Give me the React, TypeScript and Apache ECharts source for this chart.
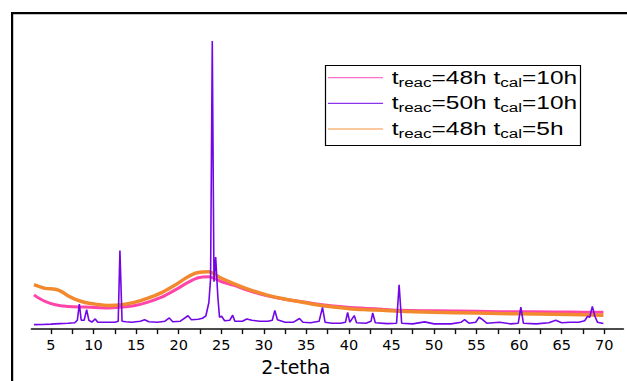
import { useEffect, useRef } from "react";
import * as echarts from "echarts";

// 2θ positions of the axis ticks and of the labelled ticks
const tickValues = [5, 7.5, 10, 12.5, 15, 17.5, 20, 22.5, 25, 27.5, 30, 32.5, 35, 37.5, 40, 42.5, 45, 47.5, 50, 52.5, 55, 57.5, 60, 62.5, 65, 67.5, 70];
const labelValues = [5, 10, 15, 20, 25, 30, 35, 40, 45, 50, 55, 60, 65, 70];

const seriesNames = ["t_reac=48h t_cal=10h", "t_reac=50h t_cal=10h", "t_reac=48h t_cal=5h"];
const seriesColors = ["#FF45AA", "#7306E6", "#F2892E"];
const legendColors = ["#FF6FC8", "#8A36EE", "#F5963F"];

// Intensity (a.u.) against 2θ
const pattern48h10h: [number, number][] = [
  [3.0, 347], [3.5, 318], [4.3, 280], [5.5, 247], [7.0, 230], [9.0, 223], [10.2, 220], [11.7, 213],
  [13.3, 223], [14.9, 240], [16.4, 273], [18.0, 323], [19.6, 397], [21.1, 473], [22.3, 520],
  [23.5, 530], [25.05, 480], [26.4, 445], [28.4, 385], [30.3, 340], [32.3, 305], [34.25, 280],
  [36.2, 255], [38.2, 235], [40.1, 220], [42.1, 210], [44.0, 200], [46.0, 190], [50.0, 185],
  [55.0, 180], [57.7, 177], [62.0, 175], [66.0, 173], [69.9, 170],
];

const pattern50h10h: [number, number][] = [
  [3.0, 45], [4.0, 47], [5.0, 50], [6.0, 55], [7.0, 60], [7.8, 65], [8.1, 90], [8.33, 253], [8.55, 90],
  [8.9, 90], [9.19, 197], [9.45, 90], [9.8, 70], [10.2, 103], [10.5, 70], [11.5, 70], [12.5, 70],
  [12.9, 80], [13.1, 797], [13.35, 80], [13.8, 75], [14.5, 70], [15.5, 80], [16.0, 95], [16.5, 75],
  [17.5, 70], [18.4, 80], [18.9, 113], [19.3, 75], [20.2, 80], [21.1, 135], [21.5, 95], [22.3, 100],
  [22.8, 110], [23.2, 135], [23.55, 270], [23.75, 510], [23.95, 2920], [24.15, 480], [24.35, 730],
  [24.6, 330], [24.8, 120], [25.05, 130], [25.4, 85], [26.0, 90], [26.35, 140], [26.6, 80],
  [27.5, 80], [28.0, 103], [28.6, 90], [29.5, 80], [30.5, 80], [31.0, 90], [31.3, 190], [31.6, 95],
  [32.5, 70], [33.5, 70], [34.2, 107], [34.6, 70], [35.5, 65], [36.5, 80], [36.9, 220], [37.2, 70],
  [38.0, 60], [39.0, 60], [39.6, 70], [39.85, 170], [40.1, 70], [40.63, 137], [40.9, 65], [42.0, 60],
  [42.6, 80], [42.8, 163], [43.1, 65], [44.5, 55], [45.6, 60], [45.9, 450], [46.2, 60], [47.5, 53],
  [48.9, 73], [50.0, 53], [52.0, 53], [53.2, 70], [53.6, 97], [54.1, 60], [54.9, 70], [55.3, 120],
  [55.7, 95], [56.2, 60], [57.7, 70], [59.0, 53], [59.9, 60], [60.2, 223], [60.5, 60], [62.0, 53],
  [63.5, 65], [64.3, 90], [65.0, 65], [66.0, 70], [67.0, 70], [67.7, 85], [68.05, 130], [68.3, 120],
  [68.6, 230], [68.9, 130], [69.2, 70], [69.9, 57],
];

const pattern48h5h: [number, number][] = [
  [3.0, 450], [4.3, 413], [5.5, 403], [6.25, 380], [7.0, 337], [7.8, 303], [9.0, 270], [10.2, 253],
  [11.7, 240], [13.3, 247], [14.9, 273], [16.4, 313], [18.0, 370], [19.6, 447], [21.1, 530],
  [22.3, 573], [23.5, 580], [24.9, 520], [26.4, 463], [28.4, 397], [30.3, 347], [32.3, 307],
  [34.25, 277], [36.2, 247], [38.2, 223], [40.1, 207], [42.1, 197], [44.0, 190], [46.0, 180],
  [50.0, 170], [55.0, 162], [57.7, 157], [62.0, 152], [66.0, 147], [69.9, 140],
];

const legendRows = [
  { main: ["=48h t", "=10h"], y: 77.7 },
  { main: ["=50h t", "=10h"], y: 103.3 },
  { main: ["=48h t", "=5h"], y: 129 },
];

export default function App() {
  const ref = useRef<HTMLDivElement>(null);

  useEffect(() => {
    if (!ref.current) return;
    const chart = echarts.init(ref.current, null, { renderer: "svg" });

    const legendChildren: any[] = [
      {
        type: "rect",
        shape: { x: 325.5, y: 65.5, width: 255, height: 80 },
        style: { fill: "#fff", stroke: "#000", lineWidth: 1.2 },
      },
    ];
    legendRows.forEach((row, i) => {
      legendChildren.push({
        type: "line",
        shape: { x1: 328, y1: row.y, x2: 383, y2: row.y },
        style: { stroke: legendColors[i], lineWidth: 1.2 },
      });
      legendChildren.push({
        type: "text",
        x: 391.7,
        y: row.y,
        scaleX: 1.36,
        originX: 0,
        originY: 0,
        style: {
          text: `{m|t}{s|reac}{m|${row.main[0]}}{s|cal}{m|${row.main[1]}}`,
          fill: "#000",
          verticalAlign: "middle",
          align: "left",
          fontFamily: "Liberation Sans",
          fontSize: 18,
          rich: {
            m: { fontSize: 18, lineHeight: 22, fontFamily: "Liberation Sans", fill: "#000" },
            s: { fontSize: 12.5, lineHeight: 8, verticalAlign: "bottom", fontFamily: "Liberation Sans", fill: "#000" },
          },
        },
      });
    });

    chart.setOption({
      animation: false,
      backgroundColor: "#fff",
      grid: { left: 31.4, width: 592, top: 33, bottom: 48 },
      xAxis: {
        type: "value",
        min: 2.7,
        max: 72.25,
        name: "2-tetha",
        nameLocation: "middle",
        nameGap: 22,
        nameTextStyle: {
          fontFamily: "DejaVu Sans",
          fontSize: 19,
          color: "#000",
          padding: [0, 63, 0, 0],
        },
        axisLine: { show: true, lineStyle: { color: "#111", width: 1.6 } },
        axisTick: {
          show: true,
          customValues: tickValues,
          length: 5,
          inside: false,
          lineStyle: { color: "#111", width: 1.4 },
        },
        axisLabel: {
          customValues: labelValues,
          fontFamily: "DejaVu Sans",
          fontSize: 14.5,
          color: "#000",
          margin: 8,
        },
        splitLine: { show: false },
      },
      yAxis: {
        type: "value",
        min: 0,
        max: 3000,
        show: false,
        splitLine: { show: false },
      },
      series: [
        {
          name: seriesNames[0],
          type: "line",
          data: pattern48h10h,
          symbol: "none",
          smooth: 0.35,
          z: 2,
          lineStyle: { color: seriesColors[0], width: 3 },
        },
        {
          name: seriesNames[2],
          type: "line",
          data: pattern48h5h,
          symbol: "none",
          smooth: 0.35,
          z: 3,
          lineStyle: { color: seriesColors[2], width: 3.5 },
        },
        {
          name: seriesNames[1],
          type: "line",
          data: pattern50h10h,
          symbol: "none",
          z: 4,
          lineStyle: { color: seriesColors[1], width: 1.6 },
        },
      ],
      graphic: [
        // outer frame of the figure: top and left edges
        {
          type: "rect",
          shape: { x: 11, y: 12, width: 616, height: 2.2 },
          style: { fill: "#000" },
          silent: true,
          z: 10,
        },
        {
          type: "rect",
          shape: { x: 11, y: 12, width: 2.2, height: 369 },
          style: { fill: "#000" },
          silent: true,
          z: 10,
        },
        { type: "group", children: legendChildren },
      ],
    });

    return () => chart.dispose();
  }, []);

  return (
    <div
      ref={ref}
      style={{ position: "fixed", left: 0, top: 0, width: 627, height: 381 }}
    />
  );
}
